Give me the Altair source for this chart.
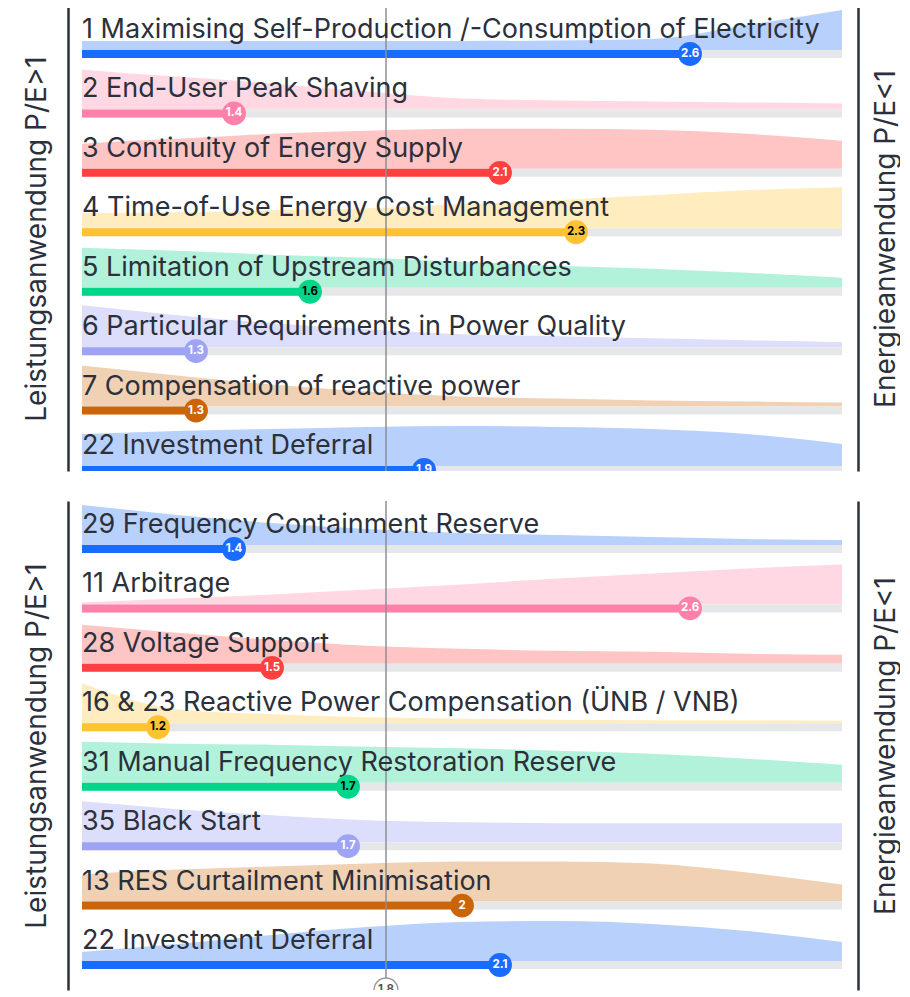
import altair as alt
import pandas as pd

# sample positions (P/E ratio axis) at which the ridge densities were read
xs = [1.0, 1.125, 1.25, 1.5, 1.75, 2.0, 2.25, 2.5, 2.75, 3.0]

p1_labels = [
    "1 Maximising Self-Production /-Consumption of Electricity",
    "2 End-User Peak Shaving",
    "3 Continuity of Energy Supply",
    "4 Time-of-Use Energy Cost Management",
    "5 Limitation of Upstream Disturbances",
    "6 Particular Requirements in Power Quality",
    "7 Compensation of reactive power",
    "22 Investment Deferral",
]
p1_values = [2.6, 1.4, 2.1, 2.3, 1.6, 1.3, 1.3, 1.9]
p1_density = [
    [9, 9, 9, 9, 9, 9, 9.5, 11, 25, 40],
    [40, 36, 33, 26, 18, 11, 9, 8, 7, 6],
    [25, 28, 30, 35, 38, 40, 40, 39, 35, 28],
    [15, 15.5, 16, 18, 20, 24, 28, 33, 38, 41],
    [40, 38.5, 37, 33, 30, 26, 22, 19, 15, 10],
    [42, 37, 32, 24, 18, 13, 11, 9, 7, 5],
    [41, 36, 31, 22, 15, 10, 8, 6, 5, 4],
    [32, 33.5, 35, 37, 39, 40, 39, 37, 32, 22],
]

p2_labels = [
    "29 Frequency Containment Reserve",
    "11 Arbitrage",
    "28 Voltage Support",
    "16 & 23 Reactive Power Compensation (ÜNB / VNB)",
    "31 Manual Frequency Restoration Reserve",
    "35 Black Start",
    "13 RES Curtailment Minimisation",
    "22 Investment Deferral",
]
p2_values = [1.4, 2.6, 1.5, 1.2, 1.7, 1.7, 2.0, 2.1]
p2_density = [
    [40, 35, 30, 22, 16, 12, 10, 8, 6, 5],
    [2, 4, 6, 10, 15, 20, 26, 31, 36, 40],
    [39, 35, 31, 24, 18, 15, 13, 12, 10, 9],
    [40, 24, 14, 9, 6, 4.5, 3.5, 3, 3, 2.5],
    [41, 40, 39, 38, 36, 34.5, 32, 29, 24, 18],
    [41, 37, 33, 27, 22, 20, 19, 19, 19, 19],
    [27, 30, 32, 35, 38, 40, 40, 38, 29, 17],
    [9, 13, 17, 26, 34, 39, 40, 37, 30, 19],
]

mean_value = [1.8]

dark = ["#1a6cff", "#ff80a8", "#ff4040", "#ffc233", "#00d68a", "#9ea3f5", "#cc650a", "#1a6cff"]
light = ["#b8d0fc", "#ffd8e4", "#ffc4c4", "#ffecbf", "#b2f2da", "#dcdefb", "#f0d1b4", "#b8d0fc"]
num_text = ["white", "white", "white", "black", "black", "white", "white", "white"]

FONT = "Inter"
INK = "#2b303b"
ROW = 59.43


def panel(labels, values, dens, height, bottom_extra, show_mean_dot):
    ymin = -(7 * ROW + bottom_extra)
    yscale = alt.Scale(domain=[ymin, 44], nice=False, zero=False)
    xscale = alt.Scale(domain=[1, 3], nice=False, zero=False)

    area_df = pd.DataFrame(
        [
            {"row": i, "x": x, "dens": d, "fill": light[i]}
            for i, row in enumerate(dens)
            for x, d in zip(xs, row)
        ]
    )
    bar_df = pd.DataFrame(
        {
            "row": list(range(len(labels))),
            "label": labels,
            "value": values,
            "lo": [1.0] * len(labels),
            "hi": [3.0] * len(labels),
            "color": dark,
            "tcolor": num_text,
        }
    )
    mean_df = pd.DataFrame({"mean": mean_value})

    calc_base = f"-datum.row * {ROW}"

    area = (
        alt.Chart(area_df)
        .transform_calculate(base=calc_base, top=f"-datum.row * {ROW} + datum.dens")
        .mark_area(interpolate="monotone", clip=True, opacity=1)
        .encode(
            x=alt.X("x:Q", scale=xscale, axis=None),
            y=alt.Y(
                "top:Q",
                scale=yscale,
                axis=alt.Axis(
                    orient="left",
                    title="Leistungsanwendung P/E>1",
                    labels=False,
                    ticks=False,
                    grid=False,
                    offset=14,
                    domainColor=INK,
                    domainWidth=2.5,
                    titleFont=FONT,
                    titleFontSize=28,
                    titleFontWeight="normal",
                    titleColor=INK,
                    titlePadding=17,
                ),
            ),
            y2="base:Q",
            detail="row:N",
            color=alt.Color("fill:N", scale=None),
        )
    )

    bars_base = alt.Chart(bar_df).transform_calculate(base=calc_base)

    track = bars_base.mark_rule(strokeWidth=8, yOffset=4, color="#e6e7e9", clip=True).encode(
        x=alt.X("lo:Q", scale=xscale, axis=None),
        x2="hi:Q",
        y=alt.Y(
            "base:Q",
            scale=yscale,
            axis=alt.Axis(
                orient="right",
                title="Energieanwendung P/E<1",
                labels=False,
                ticks=False,
                grid=False,
                offset=16,
                domainColor=INK,
                domainWidth=2.5,
                titleFont=FONT,
                titleFontSize=28,
                titleFontWeight="normal",
                titleColor=INK,
                titleAngle=270,
                titleBaseline="top",
                titlePadding=14,
            ),
        ),
    )

    bars = bars_base.mark_rule(strokeWidth=8, yOffset=4, clip=True).encode(
        x=alt.X("lo:Q", scale=xscale, axis=None),
        x2="value:Q",
        y=alt.Y("base:Q", scale=yscale, axis=None),
        color=alt.Color("color:N", scale=None),
    )

    mean_line = alt.Chart(mean_df).mark_rule(color="#8d8f94", strokeWidth=1.5).encode(
        x=alt.X("mean:Q", scale=xscale, axis=None)
    )

    text = bars_base.mark_text(
        align="left", baseline="alphabetic", dy=-12, font=FONT, fontSize=27, color=INK, clip=True
    ).encode(
        x=alt.X("lo:Q", scale=xscale, axis=None),
        y=alt.Y("base:Q", scale=yscale, axis=None),
        text="label:N",
    )

    dots = bars_base.mark_circle(size=570, opacity=1, yOffset=4, clip=True).encode(
        x=alt.X("value:Q", scale=xscale, axis=None),
        y=alt.Y("base:Q", scale=yscale, axis=None),
        color=alt.Color("color:N", scale=None),
    )

    dot_text = bars_base.mark_text(
        fontSize=11.5, fontWeight="bold", font=FONT, yOffset=4, baseline="middle", clip=True
    ).encode(
        x=alt.X("value:Q", scale=xscale, axis=None),
        y=alt.Y("base:Q", scale=yscale, axis=None),
        text=alt.Text("value:Q"),
        color=alt.Color("tcolor:N", scale=None),
    )

    layers = [area, track, bars, mean_line, text, dots, dot_text]

    if show_mean_dot:
        mean_dot = alt.Chart(mean_df).mark_circle(
            size=570, opacity=1, fill="white", stroke="#9a9a9a", strokeWidth=1.5, clip=True
        ).encode(
            x=alt.X("mean:Q", scale=xscale, axis=None),
            y=alt.YDatum(datum=ymin, scale=yscale, axis=None),
        )
        mean_dot_text = alt.Chart(mean_df).mark_text(
            fontSize=11.5, fontWeight="bold", font=FONT, baseline="middle", color="#555", clip=True
        ).encode(
            x=alt.X("mean:Q", scale=xscale, axis=None),
            y=alt.YDatum(datum=ymin, scale=yscale, axis=None),
            text=alt.Text("mean:Q"),
        )
        layers += [mean_dot, mean_dot_text]

    return alt.layer(*layers).resolve_scale(y="independent").properties(width=760, height=height)


top = panel(p1_labels, p1_values, p1_density, 465, 5, False)
bottom = panel(p2_labels, p2_values, p2_density, 489, 29, True)

chart = (
    alt.vconcat(top, bottom, spacing=28)
    .properties(padding={"left": 15, "top": -3, "right": 0, "bottom": 0})
    .configure_view(stroke=None)
)

chart.save("out.html", embed_options={"renderer": "svg", "actions": False})
